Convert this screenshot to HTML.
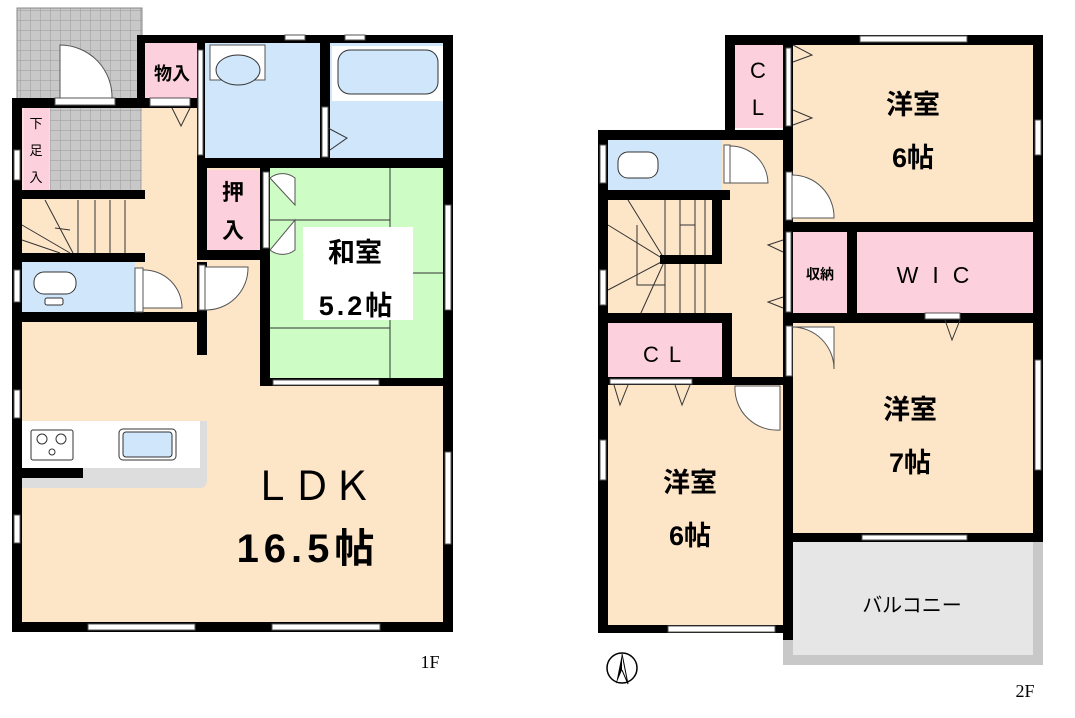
<!DOCTYPE html>
<html><head><meta charset="utf-8"><style>
html,body{margin:0;padding:0;background:#fff;}
svg{display:block;}
text{font-family:"Liberation Sans","Noto Sans CJK JP",sans-serif;}
</style></head><body>
<svg width="1075" height="718" viewBox="0 0 1075 718" xmlns="http://www.w3.org/2000/svg">
<defs>
<pattern id="tile" width="10" height="10" patternUnits="userSpaceOnUse">
<rect width="10" height="10" fill="#c8c8c8"/><path d="M0 0H10M0 0V10" stroke="#9a9a9a" stroke-width="1"/>
</pattern>
</defs>
<!-- ===== 1F ===== -->
<rect x="17" y="8" width="125" height="92" fill="url(#tile)"/>
<rect x="17" y="8" width="125" height="92" fill="none" stroke="#888" stroke-width="1"/>
<rect x="22" y="100" width="120" height="93" fill="url(#tile)"/>
<rect x="22" y="100" width="425" height="525" fill="#fde5c8"/>
<rect x="22" y="100" width="28" height="90" fill="#fdd"/>
<rect x="50" y="108" width="92" height="82" fill="url(#tile)"/>
<rect x="24" y="108" width="25" height="82" fill="#fcd0dc"/>
<rect x="145" y="43" width="52" height="55" fill="#fcd0dc"/>
<rect x="205" y="43" width="115" height="115" fill="#cfe6fb"/>
<rect x="330" y="43" width="115" height="115" fill="#cfe6fb"/>
<rect x="210" y="45" width="55" height="35" fill="#fff" stroke="#555"/>
<ellipse cx="238" cy="70" rx="22" ry="15" fill="#cfe6fb" stroke="#333"/>
<rect x="332" y="46" width="112" height="55" fill="#fff"/>
<rect x="338" y="50" width="100" height="44" rx="12" fill="#cfe6fb" stroke="#333"/>
<rect x="207" y="170" width="53" height="80" fill="#fcd0dc"/>
<rect x="270" y="168" width="175" height="210" fill="#cdfcc5"/>
<path d="M390 168V378M270 220H390M270 328H390M390 273H445" stroke="#333" stroke-width="1"/>
<rect x="303" y="227" width="110" height="93" fill="#fff"/>
<g stroke="#333" stroke-width="1">
<path d="M78 200V253M95 200V253M110 200V253M125 200V253M22 225L70 253M22 240L60 253M45 200L73 253M70 230L55 228"/>
</g>
<rect x="22" y="262" width="113" height="50" fill="#cfe6fb"/>
<rect x="34" y="272" width="42" height="22" rx="10" fill="#fff" stroke="#333"/>
<rect x="45" y="298" width="18" height="7" rx="2" fill="#fff" stroke="#333"/>
<path d="M22 421H207V480Q207 488 199 488H22Z" fill="#ddd"/>
<rect x="22" y="421" width="178" height="47" fill="#fff"/>
<rect x="31" y="430" width="42" height="30" rx="2" fill="#fff" stroke="#333"/>
<circle cx="42" cy="439" r="5" fill="none" stroke="#333"/><circle cx="61" cy="439" r="5" fill="none" stroke="#333"/><circle cx="52" cy="452" r="3" fill="none" stroke="#333"/>
<rect x="119" y="429" width="57" height="31" rx="4" fill="#fff" stroke="#333"/>
<rect x="123" y="432" width="49" height="25" rx="3" fill="#cfe6fb" stroke="#333"/>
<rect x="22" y="468" width="61" height="10" fill="#000"/>
<g fill="#000">
<rect x="12" y="100" width="10" height="532"/>
<rect x="12" y="622" width="441" height="10"/>
<rect x="443" y="35" width="10" height="597"/>
<rect x="137" y="35" width="316" height="8"/>
<rect x="12" y="98" width="190" height="10"/>
<rect x="137" y="35" width="8" height="65"/>
<rect x="197" y="35" width="8" height="125"/>
<rect x="320" y="35" width="10" height="125"/>
<rect x="197" y="158" width="256" height="10"/>
<rect x="197" y="158" width="10" height="100"/>
<rect x="197" y="250" width="70" height="10"/>
<rect x="260" y="168" width="10" height="218"/>
<rect x="262" y="378" width="191" height="8"/>
<rect x="12" y="190" width="133" height="9"/>
<rect x="12" y="253" width="133" height="9"/>
<rect x="12" y="312" width="193" height="10"/>
<rect x="197" y="262" width="10" height="93"/>
</g>
<g fill="#fff" stroke="#555" stroke-width="1">
<rect x="88" y="624" width="107" height="6"/><rect x="272" y="624" width="108" height="6"/>
<rect x="273" y="380" width="106" height="5"/>
<rect x="445" y="205" width="6" height="105"/><rect x="445" y="452" width="6" height="92"/>
<rect x="14" y="390" width="6" height="28"/><rect x="14" y="515" width="6" height="28"/>
<rect x="14" y="150" width="6" height="30"/><rect x="14" y="270" width="6" height="32"/>
<rect x="55" y="98" width="60" height="7"/>
<rect x="150" y="98" width="40" height="8"/>
<rect x="198" y="50" width="5" height="105"/>
<rect x="322" y="107" width="6" height="50"/>
<rect x="285" y="35" width="20" height="5"/><rect x="345" y="35" width="20" height="5"/>
<rect x="263" y="172" width="6" height="76"/>
<rect x="135" y="268" width="8" height="44"/>
<rect x="199" y="265" width="6" height="45"/>
<path d="M60 98V45A52 52 0 0 1 112 98Z"/>
<path d="M143 270A38 38 0 0 1 182 308H143Z"/>
<path d="M205 310A42 42 0 0 0 248 267H205Z"/>
<path d="M270 178A20 20 0 0 1 295 178V205Z M270 250A20 20 0 0 0 295 250V220Z"/>
</g>
<path d="M172 108L181 126L190 108M328 128L347 138L330 150" fill="none" stroke="#333"/>
<text x="172" y="80" font-size="18" font-weight="bold" text-anchor="middle">物入</text>
<text x="36" y="128" font-size="13" text-anchor="middle">下</text>
<text x="36" y="155" font-size="13" text-anchor="middle">足</text>
<text x="36" y="182" font-size="13" text-anchor="middle">入</text>
<text x="233" y="200" font-size="22" font-weight="bold" text-anchor="middle">押</text>
<text x="233" y="238" font-size="22" font-weight="bold" text-anchor="middle">入</text>
<text x="355" y="262" font-size="27" font-weight="bold" text-anchor="middle">和室</text>
<text x="357" y="315" font-size="27" font-weight="bold" text-anchor="middle" letter-spacing="3">5.2帖</text>
<text x="312" y="500" font-size="40" text-anchor="middle">ＬＤＫ</text>
<text x="308" y="562" font-size="40" font-weight="bold" text-anchor="middle" letter-spacing="5">16.5帖</text>
<text x="430" y="668" font-size="18" style="font-family:'Liberation Serif',serif" text-anchor="middle">1F</text>

<!-- ===== 2F ===== -->
<rect x="783" y="542" width="260" height="123" fill="#c8c8c8"/>
<rect x="793" y="542" width="240" height="113" fill="#e6e6e6"/>
<rect x="598" y="130" width="195" height="503" fill="#fde5c8"/>
<rect x="793" y="45" width="240" height="488" fill="#fde5c8"/>
<rect x="735" y="45" width="50" height="83" fill="#fcd0dc"/>
<rect x="608" y="140" width="114" height="50" fill="#cfe6fb"/>
<rect x="618" y="152" width="40" height="26" rx="10" fill="#fff" stroke="#333"/>
<rect x="608" y="323" width="114" height="54" fill="#fcd0dc"/>
<rect x="793" y="232" width="54" height="81" fill="#fcd0dc"/>
<rect x="857" y="232" width="176" height="81" fill="#fcd0dc"/>
<g stroke="#333" stroke-width="1" fill="none">
<path d="M665 200V262M680 200V262M695 200V262M705 200V262M665 262V315M680 262V315M695 262V315M705 262V315M637 225V285H665M608 225L665 260M608 290L665 260M640 315L665 260M628 200L665 260M680 225L695 225"/>
</g>
<g fill="#000">
<rect x="725" y="35" width="318" height="10"/>
<rect x="725" y="35" width="10" height="100"/>
<rect x="783" y="35" width="10" height="605"/>
<rect x="1033" y="35" width="10" height="507"/>
<rect x="598" y="130" width="195" height="10"/>
<rect x="598" y="130" width="10" height="503"/>
<rect x="598" y="190" width="132" height="10"/>
<rect x="712" y="190" width="10" height="72"/>
<rect x="660" y="255" width="62" height="9"/>
<rect x="598" y="313" width="134" height="10"/>
<rect x="722" y="313" width="10" height="72"/>
<rect x="598" y="377" width="192" height="8"/>
<rect x="783" y="222" width="260" height="10"/>
<rect x="847" y="232" width="10" height="81"/>
<rect x="783" y="313" width="260" height="10"/>
<rect x="783" y="533" width="260" height="9"/>
<rect x="598" y="625" width="195" height="8"/>
</g>
<g fill="#fff" stroke="#555" stroke-width="1">
<rect x="860" y="36" width="107" height="6"/>
<rect x="1035" y="120" width="6" height="35"/>
<rect x="1035" y="360" width="6" height="110"/>
<rect x="862" y="535" width="105" height="5"/>
<rect x="668" y="626" width="107" height="6"/>
<rect x="600" y="145" width="6" height="38"/><rect x="600" y="270" width="6" height="35"/><rect x="600" y="440" width="6" height="40"/>
<rect x="786" y="48" width="5" height="78"/>
<rect x="786" y="232" width="5" height="80"/>
<rect x="925" y="313" width="35" height="6"/>
<rect x="610" y="379" width="82" height="5"/>
<rect x="724" y="145" width="6" height="38"/>
<rect x="786" y="172" width="6" height="48"/>
<rect x="786" y="326" width="6" height="50"/>
<path d="M730 146A38 38 0 0 1 768 183H730Z"/>
<path d="M792 175A42 42 0 0 1 834 218H792Z"/>
<path d="M792 327A42 42 0 0 1 834 369V327Z"/>
<path d="M735 386A42 42 0 0 0 780 430V386Z"/>
</g>
<path d="M793 45L812 55L793 62M793 110L812 118L793 125M783 240L768 245L783 252M783 297L768 302L783 308M945 320L952 340L960 320M614 385L620 405L628 385M675 385L682 405L690 385" fill="none" stroke="#333"/>
<text x="758" y="78" font-size="22" text-anchor="middle">C</text>
<text x="758" y="115" font-size="22" text-anchor="middle">L</text>
<text x="913" y="114" font-size="27" font-weight="bold" text-anchor="middle">洋室</text>
<text x="913" y="167" font-size="27" font-weight="bold" text-anchor="middle">6帖</text>
<text x="820" y="279" font-size="14" font-weight="bold" text-anchor="middle">収納</text>
<text x="940" y="283" font-size="23" text-anchor="middle" letter-spacing="14">WIC</text>
<text x="667" y="362" font-size="22" text-anchor="middle" letter-spacing="10">CL</text>
<text x="910" y="419" font-size="27" font-weight="bold" text-anchor="middle">洋室</text>
<text x="910" y="472" font-size="27" font-weight="bold" text-anchor="middle">7帖</text>
<text x="690" y="492" font-size="27" font-weight="bold" text-anchor="middle">洋室</text>
<text x="690" y="545" font-size="27" font-weight="bold" text-anchor="middle">6帖</text>
<text x="912" y="612" font-size="20" text-anchor="middle">バルコニー</text>
<circle cx="622" cy="668" r="15" fill="none" stroke="#000" stroke-width="1.5"/>
<path d="M622 654L616 684L622 670Z" fill="#000"/><path d="M622 654L628 684L622 670" fill="none" stroke="#000"/>
<text x="1025" y="697" font-size="18" style="font-family:'Liberation Serif',serif" text-anchor="middle">2F</text>
</svg>
</body></html>
